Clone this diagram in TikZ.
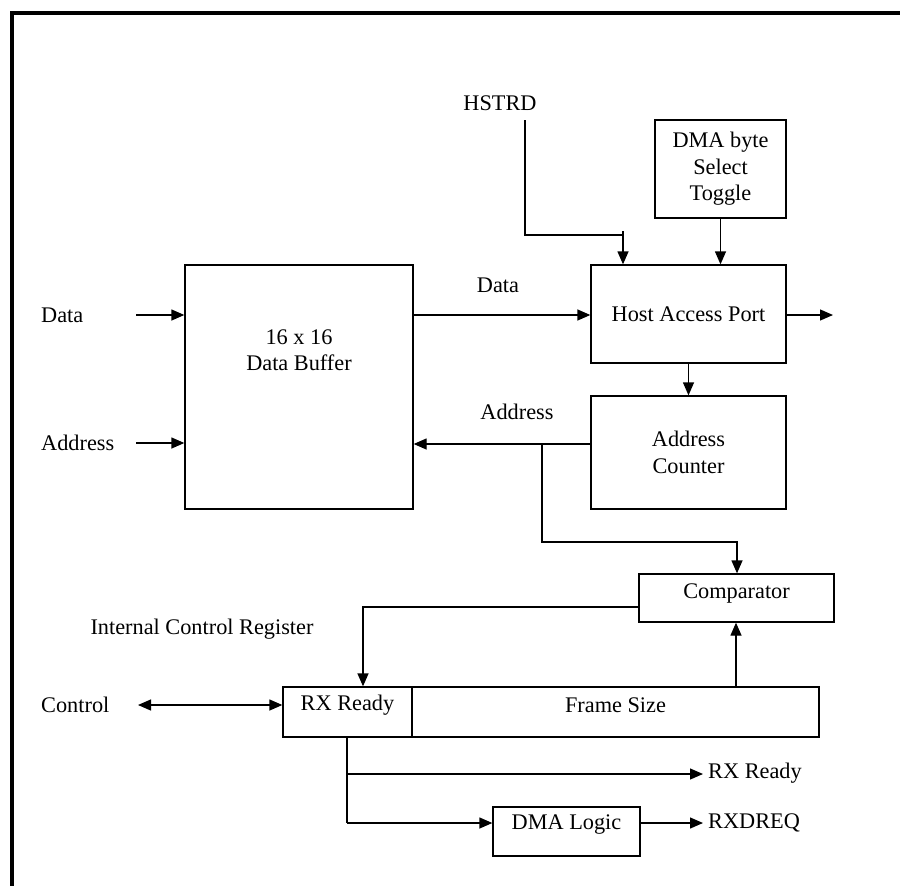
\documentclass[tikz,border=0pt]{standalone}
\usepackage{fontspec}
\setmainfont{Liberation Serif}
\usetikzlibrary{arrows.meta}
\begin{document}
\begin{tikzpicture}[x=1pt,y=-1pt,
  every node/.style={font=\fontsize{22.3}{26.5}\selectfont, inner sep=0pt},
  box/.style={draw, line width=1.3pt, inner sep=0pt},
  txt/.style={align=center},
  wire/.style={line width=1.3pt},
  arr/.style={line width=1.3pt, -{Triangle[length=13pt,width=11pt]}},
  darr/.style={line width=1.3pt, {Triangle[length=13pt,width=11pt]}-{Triangle[length=13pt,width=11pt]}}]
\useasboundingbox (0,0) rectangle (900,886);
% frame
\draw[line width=4pt, line join=miter] (12,886) -- (12,13) -- (900,13);
% boxes
\node[box, minimum width=228pt, minimum height=244pt] (buf) at (299,387) {};
\node[txt] (buftext) at (299,350) {16 x 16\\Data Buffer};
\node[box, minimum width=195pt, minimum height=98pt, txt] (hap) at (688.5,314) {Host Access Port};
\node[box, minimum width=195pt, minimum height=113pt, txt] (cnt) at (688.5,452.5) {Address\\Counter};
\node[box, line width=2pt, minimum width=131pt, minimum height=98pt, txt] (tog) at (720.5,169) {DMA byte\\Select\\Toggle};
\node[box, minimum width=195pt, minimum height=48pt] (cmp) at (736.5,598) {};
\node[txt] (cmptext) at (736.5,593) {Comparator};
\node[box, minimum width=129pt, minimum height=50pt] (rx) at (347.5,712) {};
\node[txt] (rxtext) at (347.5,705) {RX Ready};
\node[box, minimum width=407pt, minimum height=50pt] (fs) at (615.5,712) {};
\node[txt] (fstext) at (615.5,705) {Frame Size};
\node[box, minimum width=147pt, minimum height=49pt] (dl) at (566.5,831.5) {};
\node[txt] (dltext) at (566.5,825) {DMA Logic};
% labels
\node[anchor=west] (ldata) at (41,315) {Data};
\node[anchor=west] (laddr) at (41,443) {Address};
\node (ldata2) at (498,285) {Data};
\node (laddr2) at (517,412) {Address};
\node (lhstrd) at (500,103) {HSTRD};
\node (licr) at (202,629) {Internal Control Register};
\node[anchor=west] (lctrl) at (41,705) {Control};
\node[anchor=west] (lrxr) at (708,773) {RX Ready};
\node[anchor=west] (lrxd) at (708,823) {RXDREQ};
% coordinates
\coordinate (din) at (136,315);
\coordinate (ain) at (136,443);
\coordinate (aline) at (542,444);
\coordinate (hout) at (833,315);
\coordinate (hs1) at (525,120);
\coordinate (hs2) at (623,235);
\coordinate (hs3) at (623,231);
\coordinate (br) at (542,542);
\coordinate (cmpx) at (737,0);
\coordinate (rxin) at (363,607);
\coordinate (cfs) at (736,0);
\coordinate (cl) at (138,705);
\coordinate (rxo) at (347,737);
\coordinate (rxj) at (347,774);
\coordinate (rxe) at (703,774);
\coordinate (dly) at (347,823);
\coordinate (dlo) at (703,823);
% connectors
\draw[arr] (din) -- (din -| buf.west);
\draw[arr] (ain) -- (ain -| buf.west);
\draw[arr] (buf.east |- din) -- (hap.west |- din);
\draw[arr] (hap.east |- din) -- (hout);
\draw[arr] (cnt.west |- aline) -- (buf.east |- aline);
\draw[arr] (hap.south) -- (cnt.north);
\draw[arr] (tog.south) -- (tog.south |- hap.north);
\draw[wire] (hs1) |- (hs2);
\draw[arr] (hs3) -- (hs3 |- hap.north);
\draw[arr] (aline) -- (br) -| (cmpx |- cmp.north);
\draw[arr] (cmp.west |- rxin) -| (rxin |- rx.north);
\draw[arr] (cfs |- fs.north) -- (cfs |- cmp.south);
\draw[darr] (cl) -- (cl -| rx.west);
\draw[wire] (rxo) -- (dly);
\draw[arr] (rxj) -- (rxe);
\draw[arr] (dly) -- (dly -| dl.west);
\draw[arr] (dl.east |- dlo) -- (dlo);
\end{tikzpicture}
\end{document}
